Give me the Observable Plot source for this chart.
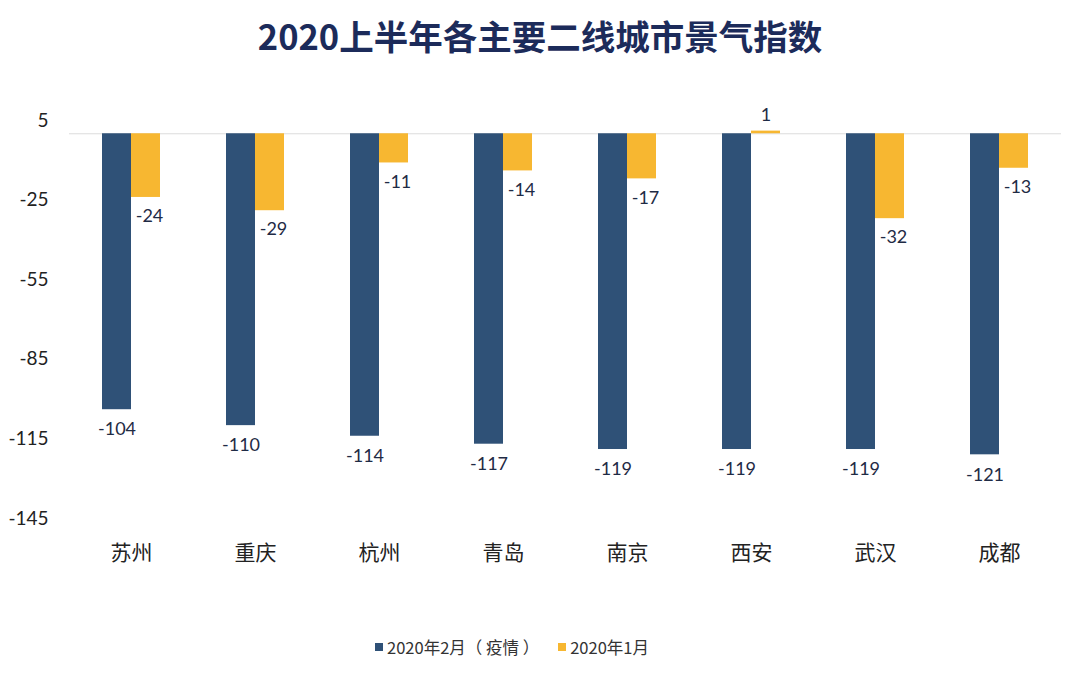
<!DOCTYPE html>
<html>
<head>
<meta charset="utf-8">
<script src="https://cdn.jsdelivr.net/npm/d3@7"></script>
<script src="https://cdn.jsdelivr.net/npm/@observablehq/plot@0.6"></script>
<style>
  html, body { margin: 0; padding: 0; background: #fff; }
  #wrap { position: relative; width: 1080px; height: 679px; overflow: hidden; }
  #title { position: absolute; top: 11px; left: 0; width: 1080px; text-align: center;
    font-family: "Noto Sans CJK SC", sans-serif; font-weight: 700; font-size: 34.5px; color: #1c2b5a; line-height: 48px; }
  #chart { position: absolute; top: 80px; left: 0; }
  #legend { position: absolute; top: 635px; left: 375px; font-family: "Noto Sans CJK SC", sans-serif;
    font-size: 16.5px; color: #333; display: flex; align-items: center; white-space: nowrap; }
  #legend .sw { display: inline-block; width: 8px; height: 8px; margin-right: 4px; }
  #legend .item { display: flex; align-items: center; margin-right: 19px; }
</style>
</head>
<body>
<div id="wrap">
  <div id="title">2020上半年各主要二线城市景气指数</div>
  <div id="chart"></div>
  <div id="legend"></div>
</div>
<script>
const cities = ["苏州", "重庆", "杭州", "青岛", "南京", "西安", "武汉", "成都"];
const seriesNames = ["2020年2月（ 疫情 ）", "2020年1月"];
const febValues = [-104, -110, -114, -117, -119, -119, -119, -121];
const janValues = [-24, -29, -11, -14, -17, 1, -32, -13];
const yTicks = [5, -25, -55, -85, -115, -145];
const colors = ["#2f5177", "#f7b731"];

const rows = [];
cities.forEach((c, i) => {
  rows.push({city: c, series: seriesNames[0], value: febValues[i]});
  rows.push({city: c, series: seriesNames[1], value: janValues[i]});
});
const feb = rows.filter(d => d.series === seriesNames[0]);
const jan = rows.filter(d => d.series === seriesNames[1]);

const fmt = d => String(d);
const labelColor = "#1f2b45";

const chart = Plot.plot({
  width: 1080,
  height: 520,
  marginTop: 40,
  marginBottom: 82,
  marginLeft: 69,
  marginRight: 19,
  style: {fontFamily: "Lato, 'Noto Sans CJK SC', sans-serif", background: "#fff"},
  fx: {domain: cities, padding: 0, label: null},
  x: {domain: seriesNames, padding: 0, axis: null},
  y: {domain: [-145, 5], axis: null},
  color: {domain: seriesNames, range: colors},
  marks: [
    Plot.ruleY([0], {stroke: "#dcdcdc", strokeWidth: 1}),
    Plot.barY(feb, {fx: "city", x: "series", y: "value", fill: "series", insetLeft: 33, insetRight: 0}),
    Plot.barY(jan, {fx: "city", x: "series", y: "value", fill: "series", insetLeft: 0, insetRight: 33}),
    Plot.text(feb, {fx: "city", x: "series", y: "value", text: d => fmt(d.value), dx: 16.5, dy: 20, fontSize: 18, fill: labelColor}),
    Plot.text(jan.filter(d => d.value < 0), {fx: "city", x: "series", y: "value", text: d => fmt(d.value), dx: -13, dy: 19, fontSize: 18, fill: labelColor}),
    Plot.text(jan.filter(d => d.value >= 0), {fx: "city", x: "series", y: "value", text: d => fmt(d.value), dx: -16.5, dy: -16, fontSize: 18, fill: labelColor}),
    Plot.axisY({ticks: yTicks, tickSize: 0, tickPadding: 21, tickFormat: fmt, fontSize: 19, color: "#222", label: null}),
    Plot.axisFx({anchor: "bottom", tickSize: 0, tickPadding: 27, fontSize: 21, color: "#222", label: null,
      fontFamily: "'Noto Sans CJK SC', sans-serif"})
  ]
});
document.getElementById("chart").appendChild(chart);

const legend = document.getElementById("legend");
seriesNames.forEach((s, i) => {
  const item = document.createElement("span");
  item.className = "item";
  item.innerHTML = `<span class="sw" style="background:${colors[i]}"></span>${s}`;
  legend.appendChild(item);
});
</script>
</body>
</html>
